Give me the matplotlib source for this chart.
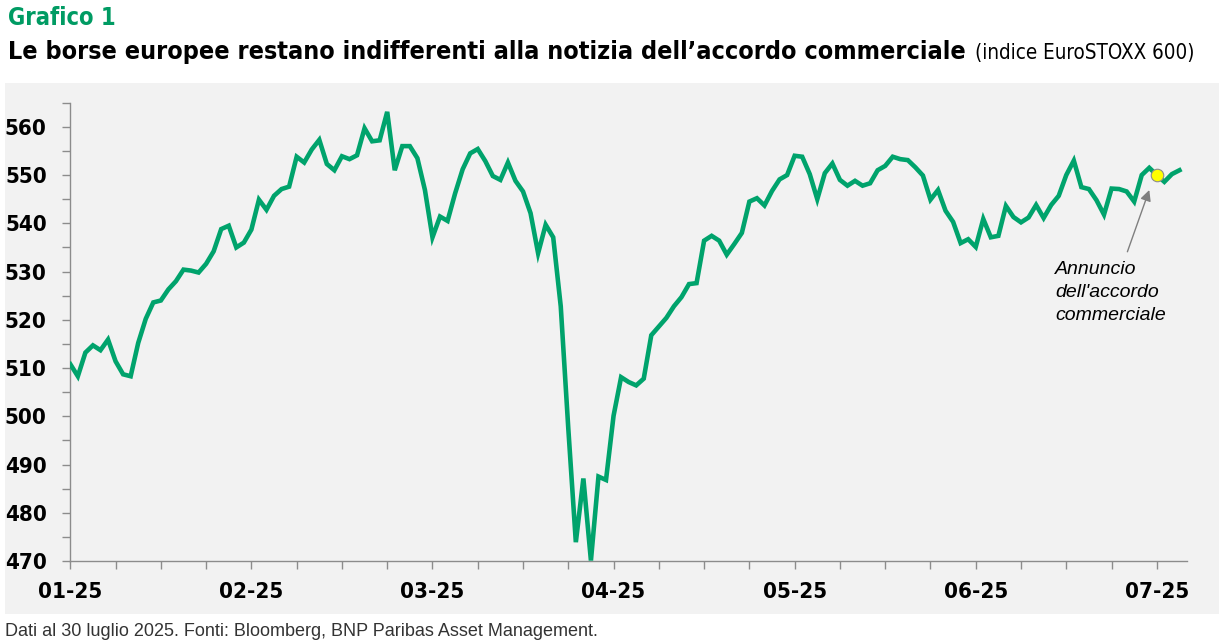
import matplotlib.pyplot as plt
from matplotlib.patches import Rectangle
from matplotlib.ticker import MultipleLocator, FixedLocator
import numpy as np

# EuroSTOXX 600, daily closes (business days, 2 Jan - 30 Jul 2025)
stoxx = [
    510.8, 508.3, 513.2, 514.7, 513.7, 515.9, 511.4, 508.7, 508.3, 515.2,
    520.2, 523.6, 524.0, 526.3, 528.0, 530.4, 530.2, 529.8, 531.6, 534.2,
    538.8, 539.5, 535.0, 536.0, 538.7, 544.9, 542.8, 545.7, 547.1, 547.6,
    553.8, 552.6, 555.3, 557.3, 552.3, 551.0, 553.9, 553.3, 554.1, 559.7,
    557.0, 557.2, 563.1, 551.0, 556.0, 556.0, 553.5, 546.9, 537.1, 541.4,
    540.5, 546.2, 551.2, 554.5, 555.4, 552.9, 549.8, 549.0, 552.6, 548.8,
    546.6, 542.1, 533.8, 539.7, 537.1, 522.8, 497.5, 473.9, 487.1, 470.1,
    487.5, 486.8, 500.1, 508.1, 507.1, 506.4, 507.8, 516.8, 518.6, 520.4,
    522.8, 524.7, 527.4, 527.6, 536.4, 537.4, 536.4, 533.5, 535.7, 538.0,
    544.5, 545.2, 543.7, 546.7, 549.1, 550.0, 554.0, 553.8, 550.2, 545.0,
    550.4, 552.4, 549.0, 547.8, 548.8, 547.8, 548.3, 551.0, 551.9, 553.8,
    553.3, 553.1, 551.6, 549.9, 544.9, 546.9, 542.6, 540.3, 535.9, 536.7,
    535.1, 540.9, 537.1, 537.4, 543.6, 541.3, 540.2, 541.2, 543.8, 541.1,
    543.8, 545.7, 550.0, 553.0, 547.5, 547.1, 544.8, 541.8, 547.2, 547.1,
    546.6, 544.5, 550.0, 551.5, 550.0, 548.6, 550.2, 551.0,
]
month_labels = ["01-25", "02-25", "03-25", "04-25", "05-25", "06-25", "07-25"]
deal_idx = 144  # day of the trade deal announcement

GREEN = "#00a36c"
GREY_AX = "#8c8c8c"

fig = plt.figure(figsize=(12.19, 6.42), dpi=100)
fig.patch.set_facecolor("white")
fig.patches.append(Rectangle((5 / 1219, 28 / 642), 1214 / 1219, 531 / 642,
                             transform=fig.transFigure, facecolor="#f2f2f2",
                             edgecolor="none", zorder=-10))

ax = fig.add_axes([70.3 / 1219, 81 / 642, (1187 - 70.3) / 1219, (561 - 102.7) / 642])
ax.set_facecolor("none")

x = np.arange(len(stoxx))
ax.plot(x, stoxx, color=GREEN, lw=3.3, solid_joinstyle="miter", zorder=3)
ax.plot(deal_idx, stoxx[deal_idx], "o", ms=9, mfc="#ffff00", mec="#8c8c8c",
        mew=0.8, zorder=4)

ax.set_xlim(0, 148)
ax.set_ylim(470, 565)

for s in ["top", "right"]:
    ax.spines[s].set_visible(False)
for s in ["left", "bottom"]:
    ax.spines[s].set_color(GREY_AX)
    ax.spines[s].set_linewidth(1)

ax.yaxis.set_major_locator(FixedLocator(np.arange(470, 561, 10)))
ax.yaxis.set_minor_locator(MultipleLocator(5))
label_step = 24
ax.xaxis.set_major_locator(FixedLocator(np.arange(len(month_labels)) * label_step))
ax.set_xticklabels(month_labels)
ax.xaxis.set_minor_locator(MultipleLocator(6))

ax.tick_params(axis="both", which="both", color=GREY_AX, length=6, width=1,
               direction="out")
ax.tick_params(axis="y", which="major", labelsize=16, pad=11)
ax.tick_params(axis="x", which="major", labelsize=16, pad=9)
for lab in ax.get_xticklabels() + ax.get_yticklabels():
    lab.set_fontweight("bold")
    lab.set_fontstretch("condensed")

ax.annotate("", xy=(143.0, 546.9), xytext=(140.1, 534.1),
            arrowprops=dict(arrowstyle="-|>", color="#7f7f7f", lw=1,
                            mutation_scale=16, shrinkA=0, shrinkB=0))
ax.text(130.5, 532.2, "Annuncio\ndell'accordo\ncommerciale", ha="left", va="top",
        fontsize=14, style="italic", family=["Liberation Sans", "DejaVu Sans"],
        linespacing=1.45)

fig.text(8 / 1219, 1 - 18 / 642, "Grafico 1", color="#009b63", fontsize=17,
         fontweight="bold", fontstretch="condensed", va="center", ha="left")
fig.text(8 / 1219, 1 - 52 / 642,
         "Le borse europee restano indifferenti alla notizia dell\u2019accordo commerciale",
         color="black", fontsize=18, fontweight="bold", fontstretch="condensed",
         va="center", ha="left")
fig.text(975 / 1219, 1 - 53 / 642, "(indice EuroSTOXX 600)", color="black",
         fontsize=14.8, fontstretch="condensed", va="center", ha="left")
fig.text(5 / 1219, 1 - 631 / 642,
         "Dati al 30 luglio 2025. Fonti: Bloomberg, BNP Paribas Asset Management.",
         color="#333333", fontsize=13, va="center", ha="left",
         family=["Liberation Sans", "DejaVu Sans"])

fig.savefig("out.png", dpi=100)
